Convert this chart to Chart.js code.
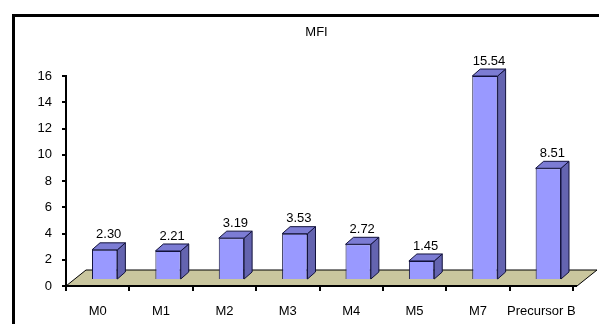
<!DOCTYPE html>
<html>
<head>
<meta charset="utf-8">
<script src="https://cdn.jsdelivr.net/npm/chart.js@4.4.0/dist/chart.umd.min.js"></script>
<style>
  html, body { margin: 0; padding: 0; background: #fff; }
  #wrap { width: 599px; height: 324px; }
</style>
</head>
<body>
<div id="wrap"><canvas id="mfiChart" width="599" height="324"></canvas></div>
<script>
var categories = ['M0', 'M1', 'M2', 'M3', 'M4', 'M5', 'M7', 'Precursor B'];
var mfiValues = [2.30, 2.21, 3.19, 3.53, 2.72, 1.45, 15.54, 8.51];
var yTicks = [0, 2, 4, 6, 8, 10, 12, 14, 16];
var chartTitle = 'MFI';

var fontFamily = "'Liberation Sans', Arial, sans-serif";
var frontColor = '#9999ff';
var sideColor = '#6464b0';
var topColor = '#7c7cd4';
var edgeColor = '#12123c';
var floorColor = '#c9c69e';

// bars stand in the middle of the floor, so they get pushed back a bit
var barShift = { x: 7, y: -6 };
var barDepth = { x: 8, y: -7 };
var floorDepth = { x: 20, y: -16 };

function fillPoly(ctx, pts, color, stroke) {
  ctx.beginPath();
  ctx.moveTo(pts[0][0], pts[0][1]);
  for (var i = 1; i < pts.length; i++) {
    ctx.lineTo(pts[i][0], pts[i][1]);
  }
  ctx.closePath();
  ctx.fillStyle = color;
  ctx.fill();
  ctx.strokeStyle = stroke;
  ctx.lineWidth = 1;
  ctx.stroke();
}

var threeDPlugin = {
  id: 'threeD',
  beforeDraw: function(chart) {
    var ctx = chart.ctx;
    var a = chart.chartArea;
    ctx.save();
    ctx.fillStyle = '#fff';
    ctx.fillRect(0, 0, chart.width, chart.height);
    // heavy frame round the plot
    ctx.strokeStyle = '#000';
    ctx.lineWidth = 3;
    ctx.strokeRect(13.5, 15.5, chart.width + 20, chart.height + 20);
    ctx.fillStyle = '#000';
    ctx.font = '13px ' + fontFamily;
    ctx.textAlign = 'center';
    ctx.textBaseline = 'middle';
    ctx.fillText(chartTitle, (a.left + a.right) / 2 - 3, 32);
    ctx.restore();
  },
  beforeDatasetsDraw: function(chart) {
    var ctx = chart.ctx;
    var a = chart.chartArea;
    var y0 = chart.scales.y.getPixelForValue(0);
    ctx.save();
    fillPoly(ctx, [
      [a.left, y0],
      [a.right + 4, y0],
      [a.right + 4 + floorDepth.x, y0 + floorDepth.y],
      [a.left + floorDepth.x, y0 + floorDepth.y]
    ], floorColor, '#000');
    ctx.beginPath();
    ctx.moveTo(a.left, y0);
    ctx.lineTo(a.right + 4, y0);
    ctx.lineWidth = 2;
    ctx.stroke();
    ctx.restore();
  },
  beforeDatasetDraw: function(chart) {
    chart.ctx.save();
    chart.ctx.translate(barShift.x, barShift.y);
  },
  afterDatasetDraw: function(chart, args) {
    var ctx = chart.ctx;
    var bars = args.meta.data;
    bars.forEach(function(bar) {
      var p = bar.getProps(['x', 'y', 'base', 'width'], true);
      var l = p.x - p.width / 2, r = p.x + p.width / 2;
      var t = p.y, b = p.base;
      var dx = barDepth.x, dy = barDepth.y;
      fillPoly(ctx, [[r, t], [r + dx, t + dy], [r + dx, b + dy], [r, b]], sideColor, edgeColor);
      fillPoly(ctx, [[l, t], [l + dx, t + dy], [r + dx, t + dy], [r, t]], topColor, edgeColor);
    });
    ctx.restore();

    // value labels above each bar
    ctx.save();
    ctx.fillStyle = '#000';
    ctx.font = '13px ' + fontFamily;
    ctx.textAlign = 'center';
    ctx.textBaseline = 'middle';
    bars.forEach(function(bar, i) {
      var p = bar.getProps(['x', 'y'], true);
      ctx.fillText(mfiValues[i].toFixed(2), p.x + barShift.x + barDepth.x / 2, p.y + barShift.y - 15);
    });
    ctx.restore();
  }
};

var ctx = document.getElementById('mfiChart').getContext('2d');
var mfiChart = new Chart(ctx, {
  type: 'bar',
  data: {
    labels: categories,
    datasets: [{
      label: chartTitle,
      data: mfiValues,
      backgroundColor: frontColor,
      borderColor: edgeColor,
      borderWidth: 1,
      barPercentage: 0.4,
      categoryPercentage: 1.0,
      clip: false
    }]
  },
  options: {
    responsive: false,
    animation: false,
    events: [],
    layout: { padding: { left: 0, right: 26, top: 76, bottom: 0 } },
    plugins: {
      legend: { display: false },
      tooltip: { enabled: false }
    },
    scales: {
      x: {
        grid: {
          display: true,
          drawOnChartArea: false,
          drawTicks: true,
          tickLength: 5,
          lineWidth: 2,
          color: '#000'
        },
        border: { display: false },
        ticks: {
          color: '#000',
          font: { family: fontFamily, size: 13 },
          padding: 13,
          maxRotation: 0,
          autoSkip: false
        },
        afterFit: function(scale) { scale.height = 38; }
      },
      y: {
        min: 0,
        max: 16,
        afterBuildTicks: function(scale) {
          scale.ticks = yTicks.map(function(v) { return { value: v }; });
        },
        grid: {
          display: true,
          drawOnChartArea: false,
          drawTicks: true,
          tickLength: 4,
          lineWidth: 2,
          color: '#000'
        },
        border: { display: true, color: '#000', width: 2 },
        ticks: {
          color: '#000',
          font: { family: fontFamily, size: 13 },
          padding: 10
        },
        afterFit: function(scale) { scale.width = 66; }
      }
    }
  },
  plugins: [threeDPlugin]
});
</script>
</body>
</html>
